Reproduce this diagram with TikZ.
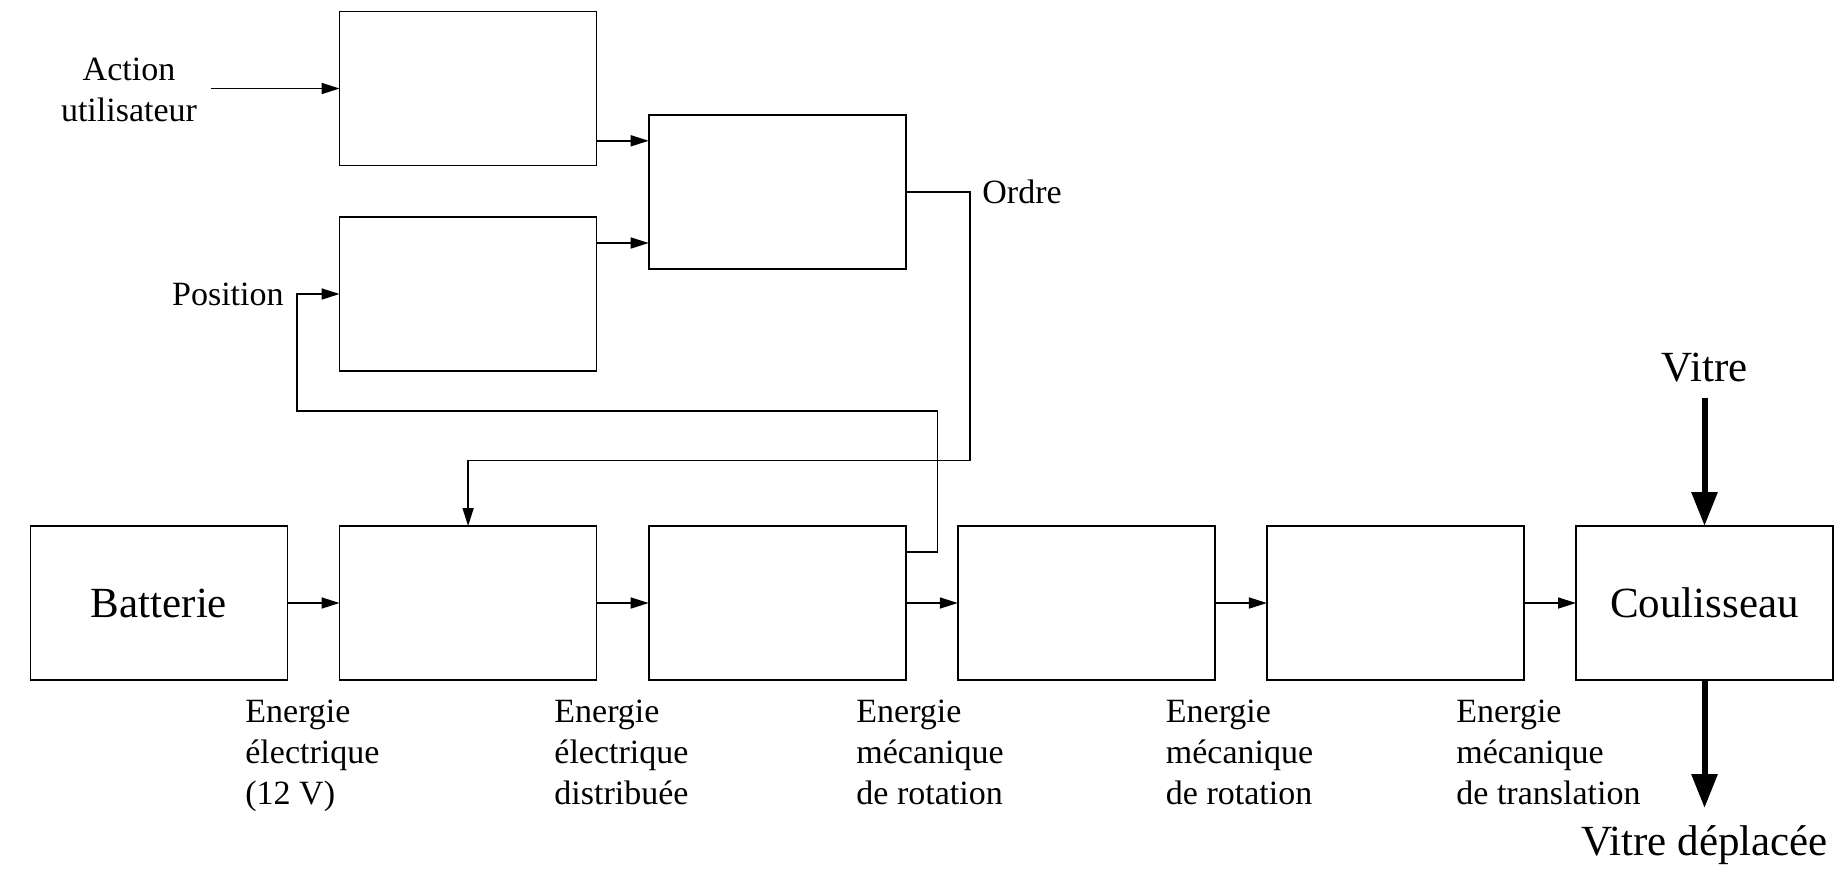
\documentclass[tikz,border=0pt]{standalone}
\usepackage{fontspec}
\setmainfont{Liberation Serif}
\usetikzlibrary{arrows.meta}
\newcommand\labfont{\fontsize{17pt}{20.5pt}\selectfont}
\newcommand\bigfont{\fontsize{21.5pt}{26pt}\selectfont}
\tikzset{
  blk/.style={draw, line width=0.8pt, minimum width=128.5pt, minimum height=77pt, inner sep=0pt, outer sep=0pt, font=\bigfont},
  arr/.style={line width=0.8pt, -{Triangle[length=9pt,width=5.5pt]}},
  bigarr/.style={line width=3pt, -{Triangle[length=17pt,width=12.5pt]}},
  lab/.style={font=\labfont, inner sep=0pt, align=left},
}
\begin{document}
\begin{tikzpicture}[x=0.5pt,y=-0.5pt]
\useasboundingbox (0,0) rectangle (1846,874);
% upper blocks
\node[blk] (A) at (468.1,88.5) {};
\node[blk] (B) at (468.1,294) {};
\node[blk] (C) at (777.2,192) {};
% lower chain
\node[blk] (E1) at (159,603) {Batterie};
\node[blk] (E2) at (468.1,603) {};
\node[blk] (E3) at (777.2,603) {};
\node[blk] (E4) at (1086.3,603) {};
\node[blk] (E5) at (1395.4,603) {};
\node[blk] (E6) at (1704.5,603) {Coulisseau};
% texts
\node[lab, align=center, anchor=north] (act) at (129,57.5) {Action\\utilisateur};
\node[lab, anchor=east] (pos) at (284,294) {Position};
\node[lab, anchor=west] (ord) at (982,192) {Ordre};
\node[font=\bigfont, inner sep=0pt, anchor=base] (vit) at (1704.5,381) {Vitre};
\node[font=\bigfont, inner sep=0pt, anchor=base] (vitd) at (1704.5,855.5) {Vitre déplacée};
\node[lab, anchor=north west] (l1) at (245,699.5) {Energie\\électrique\\(12 V)};
\node[lab, anchor=north west] (l2) at (554,699.5) {Energie\\électrique\\distribuée};
\node[lab, anchor=north west] (l3) at (856,699.5) {Energie\\mécanique\\de rotation};
\node[lab, anchor=north west] (l4) at (1165.5,699.5) {Energie\\mécanique\\de rotation};
\node[lab, anchor=north west] (l5) at (1456,699.5) {Energie\\mécanique\\de translation};
% coordinates
\coordinate (actS) at (211,88.5);
\coordinate (vitS) at (1704.5,397.5);
\coordinate (vitE) at (1704.5,808);
% connectors
\draw[arr] (actS) -- (A.west);
\draw[arr] ([yshift=12.35pt]A.south east) -- ([yshift=12.35pt]A.south east -| C.west);
\draw[arr] ([yshift=-13pt]B.north east) -- ([yshift=-13pt]B.north east -| C.west);
\draw[arr] (C.east) -| (970,460.5) -| (E2.north);
\draw[arr] ([yshift=-13pt]E3.north east) -| (937.5,411) -| (297,294) -- (B.west);
\draw[arr] (E1.east) -- (E2.west);
\draw[arr] (E2.east) -- (E3.west);
\draw[arr] (E3.east) -- (E4.west);
\draw[arr] (E4.east) -- (E5.west);
\draw[arr] (E5.east) -- (E6.west);
\draw[bigarr] (vitS) -- (E6.north);
\draw[bigarr] (E6.south) -- (vitE);
\end{tikzpicture}
\end{document}
